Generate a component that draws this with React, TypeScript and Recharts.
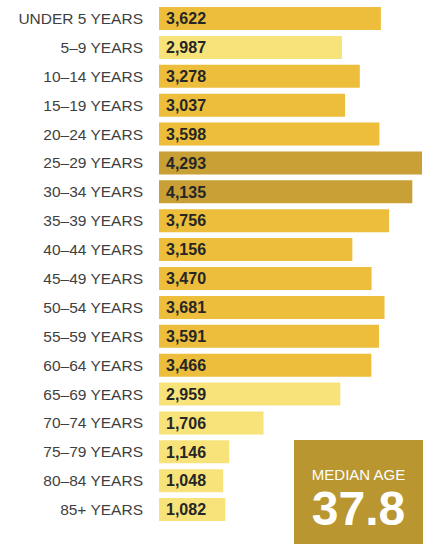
import { BarChart, Bar, XAxis, YAxis, Cell, LabelList } from 'recharts';

const ageGroups = [
  "UNDER 5 YEARS", "5–9 YEARS", "10–14 YEARS", "15–19 YEARS", "20–24 YEARS",
  "25–29 YEARS", "30–34 YEARS", "35–39 YEARS", "40–44 YEARS", "45–49 YEARS",
  "50–54 YEARS", "55–59 YEARS", "60–64 YEARS", "65–69 YEARS", "70–74 YEARS",
  "75–79 YEARS", "80–84 YEARS", "85+ YEARS"
];

const population = [
  3622, 2987, 3278, 3037, 3598, 4293, 4135, 3756, 3156,
  3470, 3681, 3591, 3466, 2959, 1706, 1146, 1048, 1082
];

// shade per bar: 0 = light, 1 = mid, 2 = dark
const shade = [1, 0, 1, 1, 1, 2, 2, 1, 1, 1, 1, 1, 1, 0, 0, 0, 0, 0];

const medianAge = "37.8";

const shadeColors = ["#f8e37a", "#ecbe3b", "#c8a035"];

const data = ageGroups.map((g, i) => ({ group: g, value: population[i], shade: shade[i] }));

export default function App() {
  return (
    <div style={{ position: 'fixed', left: 0, top: 0, width: 423, height: 544, background: '#fff' }}>
      <BarChart
        width={423}
        height={544}
        data={data}
        layout="vertical"
        margin={{ top: 4, right: 1, left: 0, bottom: 20 }}
        barCategoryGap={3}
      >
        <XAxis type="number" hide domain={[0, 4293]} />
        <YAxis
          type="category"
          dataKey="group"
          width={159}
          axisLine={false}
          tickLine={false}
          tickSize={0}
          tickMargin={16}
          interval={0}
          tick={{ fill: '#3f3f3f', fontSize: 15.5, fontFamily: 'Liberation Sans, Arial, sans-serif' }}
        />
        <Bar dataKey="value" isAnimationActive={false}>
          {data.map((d, i) => (
            <Cell key={i} fill={shadeColors[d.shade]} />
          ))}
          <LabelList
            dataKey="value"
            position="insideLeft"
            offset={7}
            formatter={(v: number) => v.toLocaleString('en-US')}
            style={{ fill: '#262626', fontSize: 16, fontWeight: 'bold', fontFamily: 'Liberation Sans, Arial, sans-serif' }}
          />
        </Bar>
      </BarChart>
      <div
        style={{
          position: 'absolute',
          left: 294,
          top: 440,
          width: 129,
          height: 104,
          background: '#b9962f',
          color: '#fff',
          fontFamily: 'Liberation Sans, Arial, sans-serif',
          textAlign: 'center',
        }}
      >
        <div style={{ fontSize: 15, marginTop: 26, lineHeight: '18px' }}>MEDIAN AGE</div>
        <div style={{ fontSize: 48, fontWeight: 'bold', lineHeight: '48px', marginTop: 1 }}>{medianAge}</div>
      </div>
    </div>
  );
}
